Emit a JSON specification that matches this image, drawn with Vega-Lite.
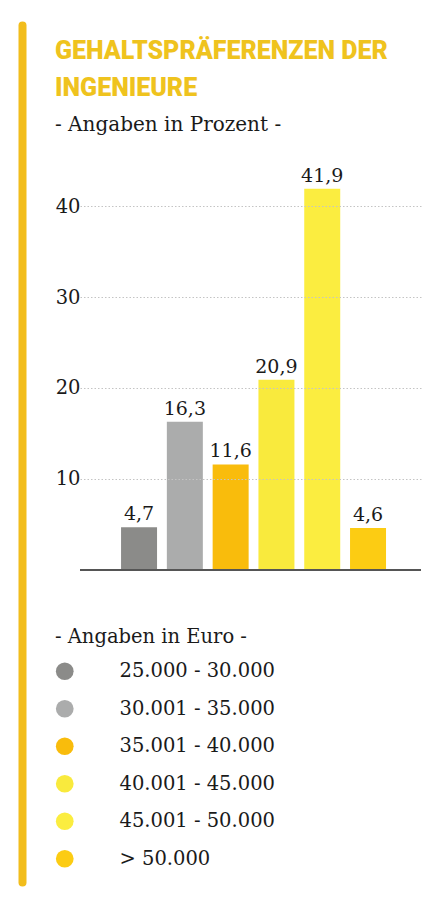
{
  "$schema": "https://vega.github.io/schema/vega-lite/v6.json",
  "width": 341,
  "height": 857,
  "autosize": {"type": "none"},
  "padding": {"left": 80, "top": 25, "right": 17, "bottom": 18},
  "background": "white",
  "config": {"view": {"stroke": null}},
  "title": {
    "text": ["GEHALTSPRÄFERENZEN DER", "INGENIEURE"],
    "subtitle": "- Angaben in Prozent -",
    "anchor": "start",
    "frame": "group",
    "dx": -25,
    "offset": -110,
    "font": "Roboto",
    "fontSize": 25,
    "fontWeight": 900,
    "color": "#efc31e",
    "lineHeight": 37,
    "subtitleFont": "DejaVu Serif",
    "subtitleFontSize": 20,
    "subtitleColor": "#1a1a1a",
    "subtitlePadding": 14
  },
  "data": {
    "values": [
      {"range": "25.000 - 30.000", "value": 4.7, "label": "4,7"},
      {"range": "30.001 - 35.000", "value": 16.3, "label": "16,3"},
      {"range": "35.001 - 40.000", "value": 11.6, "label": "11,6"},
      {"range": "40.001 - 45.000", "value": 20.9, "label": "20,9"},
      {"range": "45.001 - 50.000", "value": 41.9, "label": "41,9"},
      {"range": "> 50.000", "value": 4.6, "label": "4,6"}
    ]
  },
  "layer": [
    {
      "mark": {"type": "bar"},
      "encoding": {
        "x": {
          "field": "range",
          "type": "nominal",
          "sort": null,
          "scale": {"paddingInner": 0.214, "paddingOuter": 0.83, "align": 0.54},
          "axis": null
        },
        "y": {
          "field": "value",
          "type": "quantitative",
          "scale": {"domain": [-34.3, 59.9], "nice": false, "zero": false},
          "axis": {
            "values": [10, 20, 30, 40],
            "title": null,
            "domainColor": "#f2bd1c",
            "domainWidth": 8,
            "domainCap": "round",
            "offset": 58,
            "ticks": false,
            "labelPadding": -58,
            "labelFont": "DejaVu Serif",
            "labelFontSize": 19.5,
            "labelColor": "#1a1a1a",
            "grid": true,
            "gridDash": [1.5, 2],
            "gridColor": "#c4c4c4",
            "zindex": 1
          }
        },
        "y2": {"datum": 0},
        "color": {
          "field": "range",
          "type": "nominal",
          "sort": null,
          "scale": {
            "domain": ["25.000 - 30.000", "30.001 - 35.000", "35.001 - 40.000", "40.001 - 45.000", "45.001 - 50.000", "> 50.000"],
            "range": ["#8b8b89", "#abacac", "#f9bc0c", "#f9ea3d", "#fbed40", "#fccc13"]
          },
          "legend": {
            "orient": "none",
            "legendX": -25,
            "legendY": 603,
            "title": "- Angaben in Euro -",
            "titleFont": "DejaVu Serif",
            "titleFontSize": 19.5,
            "titleFontWeight": "normal",
            "titleColor": "#1a1a1a",
            "titleLimit": 400,
            "titlePadding": 14,
            "symbolType": "circle",
            "symbolSize": 314,
            "symbolStrokeWidth": 0,
            "symbolOpacity": 1,
            "labelFont": "DejaVu Serif",
            "labelFontSize": 19.5,
            "labelColor": "#1a1a1a",
            "labelOffset": 45,
            "labelLimit": 400,
            "rowPadding": 16.5
          }
        }
      }
    },
    {
      "mark": {
        "type": "text",
        "baseline": "alphabetic",
        "dy": -7,
        "font": "DejaVu Serif",
        "fontSize": 19,
        "color": "#1a1a1a"
      },
      "encoding": {
        "x": {"field": "range", "type": "nominal", "sort": null},
        "y": {"field": "value", "type": "quantitative"},
        "text": {"field": "label", "type": "nominal"}
      }
    },
    {
      "mark": {"type": "rule", "color": "#555555", "strokeWidth": 2},
      "encoding": {"y": {"datum": 0}}
    }
  ]
}
